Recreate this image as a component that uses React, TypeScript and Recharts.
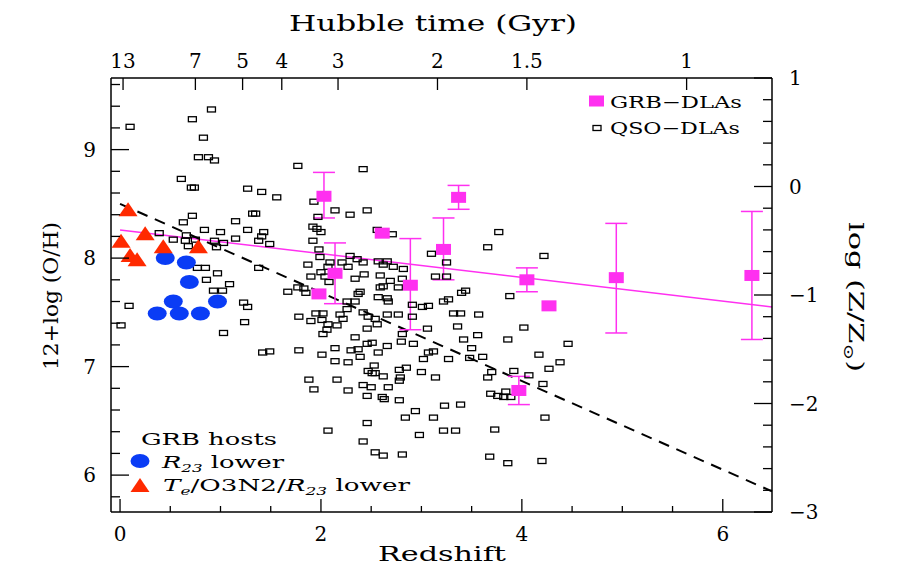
import React from 'react';
import { ScatterChart, Scatter, XAxis, YAxis, ErrorBar, ReferenceLine } from 'recharts';

// QSO-DLAs: redshift and 12+log(O/H)
const qsoZ = [
  0.10, 0.91, 0.72, 0.83, 0.78, 0.88, 0.94, 0.61, 0.71, 0.74, 1.27, 1.41, 1.56, 0.72, 0.63, 1.15, 1.32, 1.35,
  0.84, 1.00, 1.27, 1.43, 0.39, 0.53, 0.66, 0.65, 0.75, 0.68, 0.94, 0.96, 1.03, 1.15, 1.41, 1.38, 1.49,
  0.77, 0.85, 0.97, 0.86, 1.09, 1.38, 0.93, 1.02, 1.67, 0.09, 0.01, 1.23, 1.27, 1.24, 1.03, 1.42, 1.49,
  1.77, 2.42, 1.93, 2.14, 2.29, 2.46, 1.97, 1.92, 1.96, 2.00, 2.56, 2.71, 1.92, 1.98, 1.99, 2.29, 2.36,
  2.42, 2.09, 2.21, 1.87, 2.07, 2.27, 2.57, 2.66, 2.62, 2.72, 2.82, 3.10, 3.14, 1.90, 2.00, 2.04, 2.08,
  2.34, 2.43, 2.59, 2.69, 2.81, 1.77, 1.83, 1.85, 2.59, 2.62, 2.77, 2.39, 2.37, 2.57, 2.66, 2.67, 2.26,
  2.34, 2.91, 3.01, 3.07, 1.78, 1.95, 2.02, 2.19, 2.26, 2.42, 2.66, 2.77, 2.91, 1.90, 2.01, 2.07, 2.16,
  2.22, 2.06, 2.02, 2.47, 2.54, 2.56, 2.46, 2.81, 3.06, 2.34, 1.78, 2.01, 2.14, 2.14, 2.27, 2.30, 2.37,
  2.39, 2.46, 2.51, 2.57, 2.66, 2.80, 2.92, 3.07, 3.12, 3.02, 2.53, 2.47, 2.51, 2.54, 2.62, 2.78, 2.85,
  3.00, 3.14, 2.79, 2.78, 1.88, 2.16, 1.93, 2.27, 2.42, 2.50, 2.67, 2.46, 2.61, 2.63, 2.78, 2.94, 2.84,
  3.12, 2.46, 2.07, 2.98, 2.42, 2.54, 2.62, 2.81, 3.77, 3.66, 4.22, 3.25, 3.25, 3.44, 3.40, 3.27, 3.22,
  3.88, 3.32, 3.39, 3.57, 3.36, 3.56, 3.42, 3.50, 4.02, 3.86, 4.46, 3.27, 3.48, 3.61, 4.17, 4.38, 4.27,
  3.70, 3.66, 3.92, 4.07, 4.21, 3.84, 3.69, 3.76, 3.82, 3.89, 3.23, 3.39, 4.23, 3.22, 3.34, 3.73, 3.68,
  3.86, 4.20,
];
const qsoOH = [
  9.21, 9.37, 9.28, 9.11, 8.93, 8.93, 8.90, 8.73, 8.65, 8.65, 8.64, 8.61, 8.56, 8.39, 8.33, 8.34, 8.41, 8.41,
  8.26, 8.24, 8.26, 8.24, 8.23, 8.17, 8.21, 8.16, 8.17, 8.11, 8.16, 8.10, 8.14, 8.18, 8.20, 8.16, 8.13,
  7.91, 7.91, 7.86, 7.80, 7.76, 7.91, 7.70, 7.70, 7.69, 7.56, 7.38, 7.59, 7.55, 7.41, 7.31, 7.13, 7.14,
  8.85, 8.82, 8.52, 8.44, 8.40, 8.44, 8.38, 8.29, 8.27, 8.24, 8.26, 8.22, 8.16, 8.08, 8.01, 8.02, 7.99,
  7.96, 7.96, 7.96, 7.94, 7.92, 7.92, 7.97, 7.97, 7.94, 7.92, 7.90, 8.04, 7.83, 7.83, 7.87, 7.83, 7.78,
  7.81, 7.85, 7.84, 7.79, 7.81, 7.73, 7.72, 7.68, 7.73, 7.74, 7.73, 7.69, 7.67, 7.64, 7.63, 7.60, 7.60,
  7.60, 7.57, 7.55, 7.56, 7.46, 7.49, 7.49, 7.48, 7.53, 7.50, 7.48, 7.48, 7.46, 7.42, 7.43, 7.39, 7.38,
  7.44, 7.34, 7.30, 7.46, 7.44, 7.39, 7.35, 7.30, 7.35, 7.27, 7.15, 7.11, 7.17, 7.05, 7.04, 7.15, 7.16,
  7.09, 7.21, 7.22, 7.13, 7.19, 7.23, 7.21, 7.13, 7.14, 7.07, 7.01, 6.96, 6.94, 6.94, 6.91, 6.97, 6.99,
  6.95, 6.90, 6.90, 6.87, 6.88, 6.88, 6.79, 6.78, 6.83, 6.81, 6.81, 6.73, 6.72, 6.70, 6.69, 6.59, 6.53,
  6.53, 6.48, 6.41, 6.37, 6.31, 6.21, 6.18, 6.19, 8.24, 8.10, 8.02, 7.96, 7.83, 7.70, 7.68, 7.62, 7.60,
  7.65, 7.49, 7.49, 7.48, 7.37, 7.29, 7.25, 7.17, 7.36, 7.25, 7.21, 7.07, 7.08, 7.09, 7.11, 7.04, 6.98,
  6.95, 6.90, 6.96, 6.92, 6.84, 6.77, 6.75, 6.73, 6.72, 6.72, 6.64, 6.65, 6.53, 6.41, 6.41, 6.42, 6.17,
  6.11, 6.13,
];

// GRB-DLAs with error bars
const grbZ = [2.03, 2.14, 2.89, 3.22, 3.37, 4.05, 4.94, 6.29, 3.97];
const grbOH = [8.57, 7.86, 7.75, 8.08, 8.56, 7.80, 7.82, 7.84, 6.78];
const grbHi = [8.79, 8.14, 8.18, 8.37, 8.67, 7.91, 8.32, 8.43, 6.91];
const grbLo = [8.37, 7.58, 7.34, 7.80, 8.45, 7.69, 7.31, 7.25, 6.65];
// GRB-DLAs without error bars
const grbNoErrZ = [1.98, 2.61, 4.27];
const grbNoErrOH = [7.67, 8.23, 7.56];

// GRB hosts
const hostR23Z = [0.45, 0.66, 0.69, 0.53, 0.97, 0.37, 0.59, 0.80];
const hostR23OH = [8.00, 7.96, 7.78, 7.60, 7.60, 7.49, 7.49, 7.49];
const hostTeZ = [0.08, 0.25, 0.01, 0.43, 0.78, 0.10, 0.17];
const hostTeOH = [8.44, 8.22, 8.15, 8.10, 8.10, 8.02, 7.98];

// Fits
const grbFitZ = [0, 6.49];
const grbFitOH = [8.26, 7.55];
const qsoFitZ = [0, 6.49];
const qsoFitOH = [8.5, 5.85];

// Axes
const zDomain = [-0.09, 6.49];
const ohDomain = [5.66, 9.66];
const zsunDomain = [-3, 1];
const redshiftTicks = [0, 0.5, 1, 1.5, 2, 2.5, 3, 3.5, 4, 4.5, 5, 5.5, 6];
const redshiftLabeled = [0, 2, 4, 6];
const ohTicks = [5.8, 6, 6.2, 6.4, 6.6, 6.8, 7, 7.2, 7.4, 7.6, 7.8, 8, 8.2, 8.4, 8.6, 8.8, 9, 9.2, 9.4, 9.6];
const ohLabeled = [6, 7, 8, 9];
const zsunTicks = [-3, -2.8, -2.6, -2.4, -2.2, -2, -1.8, -1.6, -1.4, -1.2, -1, -0.8, -0.6, -0.4, -0.2, 0, 0.2, 0.4, 0.6, 0.8, 1];
const zsunLabeled = [-3, -2, -1, 0, 1];
const hubbleZ = [0.03, 0.75, 1.22, 1.61, 2.17, 3.16, 4.05, 5.64];
const hubbleLabels = ['13', '7', '5', '4', '3', '2', '1.5', '1'];

const FONT = '"DejaVu Serif", serif';
const MAGENTA = '#ff30f0';
const BLUE = '#0a3cf5';
const RED = '#ff2a00';

const qsoData = qsoZ.map((z, i) => ({ z, oh: qsoOH[i] }));
const grbData = grbZ.map((z, i) => ({ z, oh: grbOH[i], err: [grbOH[i] - grbLo[i], grbHi[i] - grbOH[i]] }));
const grbNoErrData = grbNoErrZ.map((z, i) => ({ z, oh: grbNoErrOH[i] }));
const r23Data = hostR23Z.map((z, i) => ({ z, oh: hostR23OH[i] }));
const teData = hostTeZ.map((z, i) => ({ z, oh: hostTeOH[i] }));

const isIn = (arr: number[], v: number) => arr.some((a) => Math.abs(a - v) < 1e-6);
const fmt = (v: number) => (v < 0 ? '\u2212' + Math.abs(v) : String(v));

const BottomTick = (p: any) => {
  const v = p.payload.value;
  const major = isIn(redshiftLabeled, v);
  return (
    <g>
      <line x1={p.x} x2={p.x} y1={p.y} y2={p.y - (major ? 13 : 6)} stroke="#000" strokeWidth={1.3} />
      {major && (
        <text x={p.x} y={p.y + 29} textAnchor="middle" fontSize={20} fontFamily={FONT} fill="#000">
          {fmt(v)}
        </text>
      )}
    </g>
  );
};

const TopTick = (p: any) => {
  const v = p.payload.value;
  const idx = hubbleZ.findIndex((h) => Math.abs(h - v) < 1e-6);
  return (
    <g>
      <line x1={p.x} x2={p.x} y1={p.y} y2={p.y + 12} stroke="#000" strokeWidth={1.3} />
      <text x={p.x} y={p.y - 10} textAnchor="middle" fontSize={20} fontFamily={FONT} fill="#000">
        {hubbleLabels[idx]}
      </text>
    </g>
  );
};

const LeftTick = (p: any) => {
  const v = p.payload.value;
  const major = isIn(ohLabeled, v);
  return (
    <g>
      <line x1={p.x} x2={p.x + (major ? 18 : 9)} y1={p.y} y2={p.y} stroke="#000" strokeWidth={1.3} />
      {major && (
        <text x={p.x - 15} y={p.y + 7} textAnchor="end" fontSize={20} fontFamily={FONT} fill="#000">
          {fmt(v)}
        </text>
      )}
    </g>
  );
};

const RightTick = (p: any) => {
  const v = p.payload.value;
  const major = isIn(zsunLabeled, v);
  return (
    <g>
      <line x1={p.x} x2={p.x - (major ? 18 : 9)} y1={p.y} y2={p.y} stroke="#000" strokeWidth={1.3} />
      {major && (
        <text x={p.x + 17} y={p.y + 7} textAnchor="start" fontSize={20} fontFamily={FONT} fill="#000">
          {fmt(v)}
        </text>
      )}
    </g>
  );
};

const QsoShape = (p: any) => (
  <rect x={p.cx - 4} y={p.cy - 2.5} width={8} height={5} fill="none" stroke="#000" strokeWidth={1.3} />
);
const GrbShape = (p: any) => <rect x={p.cx - 7.5} y={p.cy - 5.5} width={15} height={11} fill={MAGENTA} />;
const CircleShape = (p: any) => <ellipse cx={p.cx} cy={p.cy} rx={9.5} ry={7} fill={BLUE} />;
const TriShape = (p: any) => (
  <polygon points={`${p.cx},${p.cy - 8} ${p.cx - 9.5},${p.cy + 6} ${p.cx + 9.5},${p.cy + 6}`} fill={RED} />
);

export default function App() {
  return (
    <div style={{ position: 'absolute', left: 0, top: 0, width: 902, height: 566, background: '#fff' }}>
      <ScatterChart width={902} height={566} margin={{ top: 0, right: 0, bottom: 0, left: 0 }}>
        <XAxis
          xAxisId="bottom"
          dataKey="z"
          type="number"
          orientation="bottom"
          domain={zDomain}
          allowDataOverflow
          ticks={redshiftTicks}
          interval={0}
          height={54}
          tickSize={0}
          tickMargin={0}
          tickLine={false}
          axisLine={{ stroke: '#000', strokeWidth: 1.5 }}
          tick={BottomTick}
        />
        <XAxis
          xAxisId="top"
          dataKey="z"
          type="number"
          orientation="top"
          domain={zDomain}
          allowDataOverflow
          ticks={hubbleZ}
          interval={0}
          height={78}
          tickSize={0}
          tickMargin={0}
          tickLine={false}
          axisLine={{ stroke: '#000', strokeWidth: 1.5 }}
          tick={TopTick}
        />
        <YAxis
          yAxisId="left"
          dataKey="oh"
          type="number"
          orientation="left"
          domain={ohDomain}
          allowDataOverflow
          ticks={ohTicks}
          interval={0}
          width={111}
          tickSize={0}
          tickMargin={0}
          tickLine={false}
          axisLine={{ stroke: '#000', strokeWidth: 1.5 }}
          tick={LeftTick}
        />
        <YAxis
          yAxisId="right"
          type="number"
          orientation="right"
          domain={zsunDomain}
          allowDataOverflow
          ticks={zsunTicks}
          interval={0}
          width={130}
          tickSize={0}
          tickMargin={0}
          tickLine={false}
          axisLine={{ stroke: '#000', strokeWidth: 1.5 }}
          tick={RightTick}
        />
        <Scatter xAxisId="bottom" yAxisId="left" data={qsoData} shape={QsoShape} isAnimationActive={false} />
        <ReferenceLine
          xAxisId="bottom"
          yAxisId="left"
          segment={[
            { x: grbFitZ[0], y: grbFitOH[0] },
            { x: grbFitZ[1], y: grbFitOH[1] },
          ]}
          stroke={MAGENTA}
          strokeWidth={1.5}
          ifOverflow="visible"
        />
        <ReferenceLine
          xAxisId="bottom"
          yAxisId="left"
          segment={[
            { x: qsoFitZ[0], y: qsoFitOH[0] },
            { x: qsoFitZ[1], y: qsoFitOH[1] },
          ]}
          stroke="#000"
          strokeWidth={2}
          strokeDasharray="11 8"
          ifOverflow="visible"
        />
        <Scatter xAxisId="bottom" yAxisId="left" data={grbData} shape={GrbShape} isAnimationActive={false}>
          <ErrorBar dataKey="err" direction="y" width={11} stroke={MAGENTA} strokeWidth={1.5} isAnimationActive={false} />
        </Scatter>
        <Scatter xAxisId="bottom" yAxisId="left" data={grbNoErrData} shape={GrbShape} isAnimationActive={false} />
        <Scatter xAxisId="bottom" yAxisId="left" data={r23Data} shape={CircleShape} isAnimationActive={false} />
        <Scatter xAxisId="bottom" yAxisId="left" data={teData} shape={TriShape} isAnimationActive={false} />
      </ScatterChart>
      <svg
        width={902}
        height={566}
        style={{ position: 'absolute', left: 0, top: 0, pointerEvents: 'none' }}
        fontFamily={FONT}
      >
        <text x={433} y={31} textAnchor="middle" fontSize={22} textLength={288} lengthAdjust="spacingAndGlyphs">
          Hubble time (Gyr)
        </text>
        <text x={442} y={561} textAnchor="middle" fontSize={21} textLength={128} lengthAdjust="spacingAndGlyphs">
          Redshift
        </text>
        <text
          transform="translate(58,296) rotate(-90)"
          textAnchor="middle"
          fontSize={21}
          textLength={148}
          lengthAdjust="spacingAndGlyphs"
        >
          12+log (O/H)
        </text>
        <text
          transform="translate(849,297) rotate(90)"
          textAnchor="middle"
          fontSize={21}
          textLength={150}
          lengthAdjust="spacingAndGlyphs"
        >
          log (Z/Z<tspan fontSize={14} dy={5}>⊙</tspan>
          <tspan dy={-5}>)</tspan>
        </text>

        {/* top-right legend */}
        <rect x={589} y={95.5} width={15} height={11} fill={MAGENTA} />
        <text x={610} y={108} fontSize={17} textLength={132} lengthAdjust="spacingAndGlyphs">
          GRB{'\u2212'}DLAs
        </text>
        <rect x={593} y={125.5} width={8} height={5} fill="none" stroke="#000" strokeWidth={1.3} />
        <text x={610} y={134} fontSize={17} textLength={130} lengthAdjust="spacingAndGlyphs">
          QSO{'\u2212'}DLAs
        </text>

        {/* bottom-left legend */}
        <text x={141} y={445} fontSize={17} textLength={136} lengthAdjust="spacingAndGlyphs">
          GRB hosts
        </text>
        <ellipse cx={140} cy={461} rx={9.5} ry={7} fill={BLUE} />
        <text x={162} y={468} fontSize={17} textLength={122} lengthAdjust="spacingAndGlyphs">
          <tspan fontStyle="italic">R</tspan>
          <tspan fontSize={11} dy={4} fontStyle="italic">23</tspan>
          <tspan dy={-4}> lower</tspan>
        </text>
        <polygon points="140,478 130.5,492 149.5,492" fill={RED} />
        <text x={163} y={491} fontSize={17} textLength={247} lengthAdjust="spacingAndGlyphs">
          <tspan fontStyle="italic">T</tspan>
          <tspan fontSize={11} dy={4} fontStyle="italic">e</tspan>
          <tspan dy={-4}>/O3N2/</tspan>
          <tspan fontStyle="italic">R</tspan>
          <tspan fontSize={11} dy={4} fontStyle="italic">23</tspan>
          <tspan dy={-4}> lower</tspan>
        </text>
      </svg>
    </div>
  );
}
